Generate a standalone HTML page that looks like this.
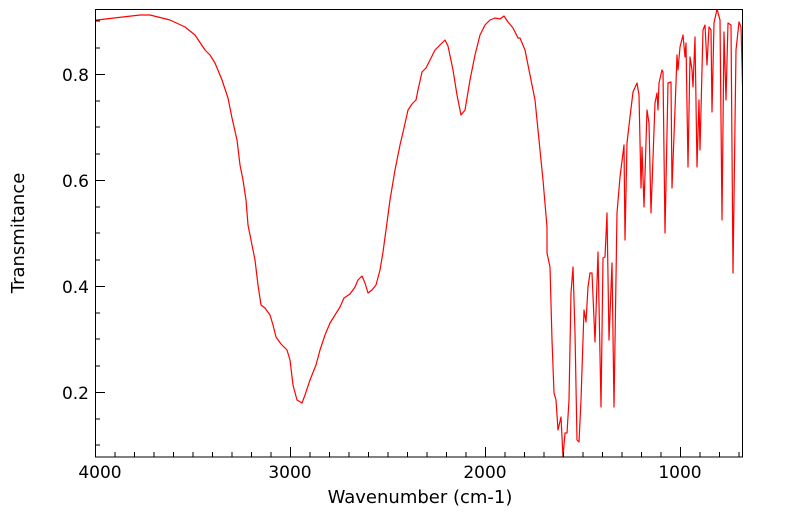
<!DOCTYPE html>
<html><head><meta charset="utf-8"><style>
html,body{margin:0;padding:0;background:#fff;}
svg{display:block;font-family:"DejaVu Sans","Liberation Sans",sans-serif;}
</style></head><body>
<svg width="799" height="516" viewBox="0 0 799 516" xmlns="http://www.w3.org/2000/svg">
<rect x="0" y="0" width="799" height="516" fill="#fff"/>
<defs><clipPath id="c"><rect x="95" y="9" width="647" height="448"/></clipPath></defs>
<polyline clip-path="url(#c)" fill="none" stroke="#ff0000" stroke-width="1.2" stroke-linejoin="round" points="
95,20 97,20 140,15 150,15 170,20 185,27 195,35 205,50 210,55 215,63 222,80 228,98 232,118 237,140 240,165 243,180 246,200 248,225 251,240 255,260 258,285 261,305 265,308 270,315 273,325 276,337 281,344 287,350 290,360 293,385 297,400 302,403 305,395 310,380 316,365 320,350 325,335 330,323 335,315 340,307 344,298 350,294 355,287 358,280 362,276 365,283 368,293 372,290 376,285 380,270 383,252 386,230 390,200 395,170 400,145 404,128 408,110 412,104 416,100 418,90 422,72 426,68 430,60 435,50 440,45 445,40 448,46 453,70 457,95 461,115 465,110 470,80 475,55 480,35 485,25 490,20 495,18 500,19 504,16 508,22 513,28 518,38 520,38 525,50 535,100 543,180 547,227 547,253 550,267 552,340 554,393 556,400 558,430 561,417 563,457 565,433 567,433 569,400 571,293 573,267 575,333 577,440 579,442 581,400 584,310 586,322 588,287 590,273 592,273 595,342 598,252 601,407 603,258 605,257 607,213 609,340 612,263 614,407 617,213 620,177 624,145 625,240 627,143 630,117 633,92 637,83 639,95 641,188 642,147 644,207 647,110 649,123 651,213 655,103 657,93 658,110 659,83 662,70 663,72 665,233 668,83 671,82 672,188 676,83 677,55 678,70 680,47 683,35 685,57 686,43 688,167 690,57 692,70 693,87 695,37 697,167 699,100 700,150 703,30 705,25 707,65 709,27 711,30 712,112 714,23 717,9 720,20 722,220 724,32 726,100 728,23 731,25 733,273 736,50 739,22 741,27 743,103"/>
<rect x="95.5" y="9.5" width="647" height="447.5" fill="none" stroke="#000" stroke-width="1"/>
<g stroke="#000" stroke-width="1">
<path d="M95.5,457v-10M290.5,457v-10M485.5,457v-10M680.5,457v-10"/>
<path d="M115,457v-5M134.5,457v-5M154,457v-5M173.5,457v-5M193,457v-5M212.5,457v-5M232,457v-5M251.5,457v-5M271,457v-5
M310,457v-5M329.5,457v-5M349,457v-5M368.5,457v-5M388,457v-5M407.5,457v-5M427,457v-5M446.5,457v-5M466,457v-5
M505,457v-5M524.5,457v-5M544,457v-5M563.5,457v-5M583,457v-5M602.5,457v-5M622,457v-5M641.5,457v-5M661,457v-5
M700,457v-5M719.5,457v-5M739,457v-5"/>
<path d="M95,74.5h10M95,180.5h10M95,286.5h10M95,392.5h10"/>
<path d="M95,21h5M95,48h5M95,101h5M95,127h5M95,154h5M95,207h5M95,233h5M95,260h5M95,313h5M95,339h5M95,366h5M95,419h5M95,445h5"/>
</g>
<g font-size="17" fill="#000" text-anchor="end">
<text x="89" y="81">0.8</text>
<text x="89" y="187">0.6</text>
<text x="89" y="293">0.4</text>
<text x="89" y="399">0.2</text>
</g>
<g font-size="17" fill="#000" text-anchor="middle">
<text x="100" y="478">4000</text>
<text x="290" y="478">3000</text>
<text x="485" y="478">2000</text>
<text x="680" y="478">1000</text>
</g>
<g font-size="18" fill="#000" text-anchor="middle">
<text x="420" y="503">Wavenumber (cm-1)</text>
<text transform="translate(24,233) rotate(-90)">Transmitance</text>
</g>
</svg>
</body></html>
